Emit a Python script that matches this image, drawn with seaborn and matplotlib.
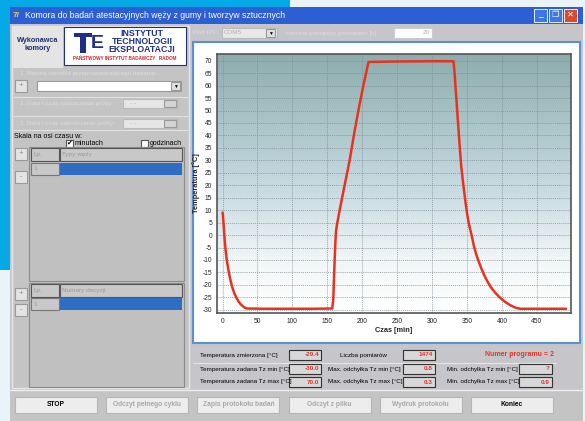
import numpy as np
import pandas as pd
import matplotlib.pyplot as plt
import seaborn as sns
from matplotlib.patches import Rectangle
from matplotlib.colors import LinearSegmentedColormap

# przebieg temperatury
czas = [0, 0.5, 1.5, 2.5, 3.5, 4.5, 6, 8, 10, 12, 14.5, 17, 20, 23, 26, 29, 32, 35,
        60, 100, 130, 157,
        158.5, 159.5, 160.5, 161.5, 162.5, 164, 166, 168, 174.8, 182, 188, 194.5, 201.6, 209,
        250, 300, 330.6, 332, 334, 336, 338, 340, 342, 344, 346, 348, 350, 352, 354, 357,
        360, 363, 366, 370, 375, 380, 385, 390, 395, 400, 405, 410, 415, 420, 426,
        460, 492]
temperatura = [9, 8, 4, 0, -3.5, -6.5, -10, -13.5, -16.5, -19, -21.5, -23.5, -25.3, -26.7,
               -27.8, -28.6, -29.2, -29.5,
               -29.6, -29.6, -29.6, -29.5,
               -26, -18, -10, -3, 1.5, 4.5, 7.5, 10.5, 20, 30, 40, 50, 60, 69.5,
               69.7, 69.8, 69.8, 66, 58, 50, 42, 34, 27, 22, 17.5, 13, 9, 5.5, 3, -0.5,
               -4.5, -7.5, -10, -13, -16.3, -19, -21.2, -23, -24.5, -25.8, -26.9, -27.8,
               -28.6, -29.2, -29.6,
               -29.6, -29.6]

x_ticks = list(range(0, 451, 50))
y_ticks = list(range(-30, 71, 5))

info_rows = [
    ["Temperatura zmierzona [°C]", "-29.4", "Liczba pomiarów", "1474", None, None],
    ["Temperatura zadana Tz min [°C]", "-30.0", "Max. odchyłka Tz min [°C]", "0.8",
     "Min. odchyłka Tz min [°C]", "?"],
    ["Temperatura zadana Tz max [°C]", "70.0", "Max. odchyłka Tz max [°C]", "0.3",
     "Min. odchyłka Tz max [°C]", "0.9"],
]
przyciski = ["STOP", "Odczyt pełnego cyklu", "Zapis protokołu badań", "Odczyt z pliku",
             "Wydruk protokołu", "Koniec"]
przyciski_aktywne = [True, False, False, False, False, True]

df = pd.DataFrame({"Czas [min]": czas, "Temperatura [°C]": temperatura})

sns.set_style("white")
plt.rcParams["font.family"] = ["Liberation Sans", "DejaVu Sans"]
plt.rcParams["axes.unicode_minus"] = False

fig = plt.figure(figsize=(5.85, 4.21), dpi=100)
bg = fig.add_axes([0, 0, 1, 1])
bg.set_xlim(0, 585)
bg.set_ylim(421, 0)
bg.axis("off")


def box(x, y, w, h, fc, ec="none", lw=0.8, z=1):
    bg.add_patch(Rectangle((x, y), w, h, fc=fc, ec=ec, lw=lw, zorder=z))


def txt(x, y, s, size=5.0, color="black", ha="left", weight="normal", z=5):
    bg.text(x, y, s, fontsize=size, color=color, ha=ha, va="center", weight=weight, zorder=z)


# tlo pulpitu
box(0, 0, 585, 421, "#eaf3f7", z=0)
box(0, 0, 290, 8, "#05a9e6", z=0)
box(0, 0, 10, 270, "#05a9e6", z=0)

# okno
box(10, 7, 573, 414, "#c6c6ca", z=1)
box(10, 7, 573, 17, "#2c5fd3", z=2)
txt(13, 15.5, "7/", size=6, color="#f2d24a", weight="bold")
txt(25, 15.5, "Komora do badań atestacyjnych węży z gumy i tworzyw sztucznych", size=6.2, color="white")
box(534, 9, 13, 13, "#3b78e8", ec="white", lw=0.6, z=3)
box(549, 9, 13, 13, "#3b78e8", ec="white", lw=0.6, z=3)
box(564, 9, 13, 13, "#dc4a2c", ec="white", lw=0.6, z=3)
txt(540.5, 16, "_", size=6, color="white", ha="center", weight="bold")
txt(555.5, 15.5, "❐", size=6, color="white", ha="center")
txt(570.5, 15.5, "✕", size=6, color="white", ha="center", weight="bold")

# lewy panel
box(12, 26, 177, 362, "#c4c4c4", ec="#e6e6e6", lw=1, z=2)
box(13, 27, 50, 41, "#e4e4e4", z=3)
txt(38, 41, "Wykonawca", size=5.2, color="#1f2f6e", ha="center", weight="bold")
txt(38, 48, "komory", size=5.2, color="#1f2f6e", ha="center", weight="bold")
box(64, 27, 122, 38, "white", ec="#23336f", lw=0.8, z=3)
box(80, 33, 6, 20, "#1d2f8a", z=4)
box(74, 33, 18, 4, "#1d2f8a", z=4)
txt(97, 43, "E", size=14, color="#1d2f8a", ha="center", weight="bold")
txt(142, 33.5, "INSTYTUT", size=6.3, color="#1d2f8a", ha="center", weight="bold")
txt(142, 41.5, "TECHNOLOGII", size=6.3, color="#1d2f8a", ha="center", weight="bold")
txt(142, 49.5, "EKSPLOATACJI", size=6.3, color="#1d2f8a", ha="center", weight="bold")
txt(125, 58, "PAŃSTWOWY INSTYTUT BADAWCZY   RADOM", size=3.3, color="#d2232a", ha="center", weight="bold")

txt(20, 73, "1. Nazwa ośrodka przeprowadzającego badania:", size=4.6, color="#dcdcdc")
box(15, 80, 12, 12, "#e4e4e4", ec="#999999", z=3)
txt(21, 86, "+", size=5.5, color="#888888", ha="center")
box(37, 81, 144, 10, "white", ec="#999999", z=3)
box(171, 82, 9, 8, "#e0e0e0", ec="#999999", z=4)
txt(175.5, 86, "▼", size=3.5, ha="center")
bg.plot([14, 187], [97, 97], color="#e2e2e2", lw=0.8, zorder=3)
txt(20, 103, "2. Data i czas rozpoczęcia próby:", size=4.6, color="#dcdcdc")
box(123, 99, 54, 9, "#e6e6e6", ec="#bbbbbb", z=3)
box(164, 100, 12, 7, "#d4d4d4", ec="#999999", z=4)
txt(130, 103.5, "- -", size=4.5, color="#aaaaaa")
bg.plot([14, 187], [116, 116], color="#e2e2e2", lw=0.8, zorder=3)
txt(20, 123, "3. Data i czas zakończenia próby:", size=4.6, color="#dcdcdc")
box(123, 119, 54, 9, "#e6e6e6", ec="#bbbbbb", z=3)
box(164, 120, 12, 7, "#d4d4d4", ec="#999999", z=4)
txt(130, 123.5, "- -", size=4.5, color="#aaaaaa")
bg.plot([14, 187], [130, 130], color="#e2e2e2", lw=0.8, zorder=3)

txt(14, 136, "Skala na osi czasu w:", size=5)
box(66, 140, 7, 7, "white", ec="#555555", z=3)
txt(69.5, 143, "✔", size=5, ha="center")
txt(75, 143.5, "minutach", size=5)
box(141, 140, 7, 7, "white", ec="#555555", z=3)
txt(150, 143.5, "godzinach", size=5)

# tabela typow wezy
box(29, 147, 155, 134, "#c0c0c0", ec="#8a8a8a", z=3)
box(31, 148, 28, 13, "#c8c8c8", ec="#555555", z=4)
box(60, 148, 122, 13, "#c8c8c8", ec="#555555", z=4)
txt(33, 154.5, "Lp.", size=4.6, color="#999999")
txt(62, 154.5, "Typy węży", size=4.6, color="#999999")
box(31, 163, 28, 12, "#c8c8c8", ec="#777777", z=4)
box(60, 163, 122, 12, "#2f6dc4", z=4)
txt(33, 169, "1.", size=4.6, color="#999999")
box(15, 148, 12, 12, "#e4e4e4", ec="#999999", z=3)
txt(21, 154, "+", size=5.5, color="#888888", ha="center")
box(15, 171, 12, 12, "#e4e4e4", ec="#999999", z=3)
txt(21, 177, "-", size=5.5, color="#888888", ha="center")

# tabela numerow decyzji
box(29, 283, 155, 104, "#c0c0c0", ec="#8a8a8a", z=3)
box(31, 284, 28, 13, "#c8c8c8", ec="#555555", z=4)
box(60, 284, 122, 13, "#c8c8c8", ec="#555555", z=4)
txt(33, 290.5, "Lp.", size=4.6, color="#999999")
txt(62, 290.5, "Numery decyzji", size=4.6, color="#999999")
box(31, 298, 28, 12, "#c8c8c8", ec="#777777", z=4)
box(60, 298, 122, 12, "#2f6dc4", z=4)
txt(33, 304, "1.", size=4.6, color="#999999")
box(15, 288, 12, 12, "#e4e4e4", ec="#999999", z=3)
txt(21, 294, "+", size=5.5, color="#888888", ha="center")
box(15, 304, 12, 12, "#e4e4e4", ec="#999999", z=3)
txt(21, 310, "-", size=5.5, color="#888888", ha="center")

# pasek portu
txt(193, 33, "Port RS:", size=4.6, color="#dcdcdc")
box(222, 28, 55, 10, "#e8e8e8", ec="#bbbbbb", z=3)
txt(224, 33, "COM5", size=4.5, color="#b0b0b0")
box(266, 29, 9, 8, "#e0e0e0", ec="#999999", z=4)
txt(270.5, 33, "▼", size=3.5, ha="center")
txt(285, 33, "Interwał pomiędzy pomiarami [s]:", size=4.6, color="#dcdcdc")
box(394, 28, 38, 10, "white", ec="#cccccc", z=3)
txt(430, 33, "20", size=4.5, color="#b0b0b0", ha="right")

# panel wykresu
box(193, 42, 387, 301, "white", ec="#5b8fd8", lw=1.5, z=2)

# panel informacji
bg.plot([193, 556], [363, 363], color="#e6e6e6", lw=0.8, zorder=3)
row_y = [355, 369, 382]
for y, row in zip(row_y, info_rows):
    txt(200, y, row[0], size=4.5)
    box(289, y - 5, 32, 10, "#d8d8d8", ec="#333333", z=3)
    txt(319, y, row[1], size=4.6, color="#e8322a", ha="right", weight="bold")
    if y == row_y[0]:
        txt(340, y, row[2], size=4.5)
    else:
        txt(328, y, row[2], size=4.5)
    box(403, y - 5, 32, 10, "#d8d8d8", ec="#333333", z=3)
    txt(433, y, row[3], size=4.6, color="#e8322a", ha="right", weight="bold")
    if row[4] is not None:
        txt(447, y, row[4], size=4.5)
        box(519, y - 5, 33, 10, "#d8d8d8", ec="#333333", z=3)
        txt(550, y, row[5], size=4.6, color="#e8322a", ha="right", weight="bold")
txt(485, 354, "Numer programu = 2", size=5, color="#e8322a", weight="bold")

# przyciski
box(10, 390, 573, 31, "#c4c4c4", z=2)
bg.plot([10, 583], [390, 390], color="#eeeeee", lw=1, zorder=3)
for i, (nazwa, aktywny) in enumerate(zip(przyciski, przyciski_aktywne)):
    x0 = 15 + i * 91.2
    box(x0, 397, 82, 16, "#ededed", ec="#b5b5b5", z=3)
    txt(x0 + 41, 405, nazwa, size=4.8, ha="center",
        color="black" if aktywny else "#a8a8a8", weight="bold")

# wykres temperatury
ax = fig.add_axes([217 / 585, 1 - 313 / 421, (571 - 217) / 585, (313 - 54) / 421])
xmin, xmax, ymin, ymax = -8, 499, -31.3, 72.7
grad = np.linspace(0, 1, 256).reshape(-1, 1)
cmap = LinearSegmentedColormap.from_list(
    "tlo", ["#ffffff", "#f2f6f7", "#d2e2e7", "#b9d0d6", "#a3bfc1", "#8eabad"])
ax.imshow(grad, extent=[xmin, xmax, ymin, ymax], origin="lower", aspect="auto",
          cmap=cmap, zorder=0)
sns.lineplot(data=df, x="Czas [min]", y="Temperatura [°C]", ax=ax,
             color="#e8321e", linewidth=1.8, zorder=3)
ax.set_xlim(xmin, xmax)
ax.set_ylim(ymin, ymax)
ax.set_xticks(x_ticks)
ax.set_yticks(y_ticks)
ax.grid(True, color="#7b8a93", linestyle=(0, (1.5, 1.5)), linewidth=0.5, zorder=1)
ax.tick_params(labelsize=4.8, length=2, width=0.6, pad=1.5, colors="#222222")
for s in ax.spines.values():
    s.set_color("#555555")
    s.set_linewidth(1.2)
ax.set_xlabel("Czas [min]", fontsize=5.3, weight="bold", labelpad=1.5)
ax.set_ylabel("Temperatura [°C]", fontsize=5.3, weight="bold", labelpad=2)

fig.savefig("out.png", dpi=100)
